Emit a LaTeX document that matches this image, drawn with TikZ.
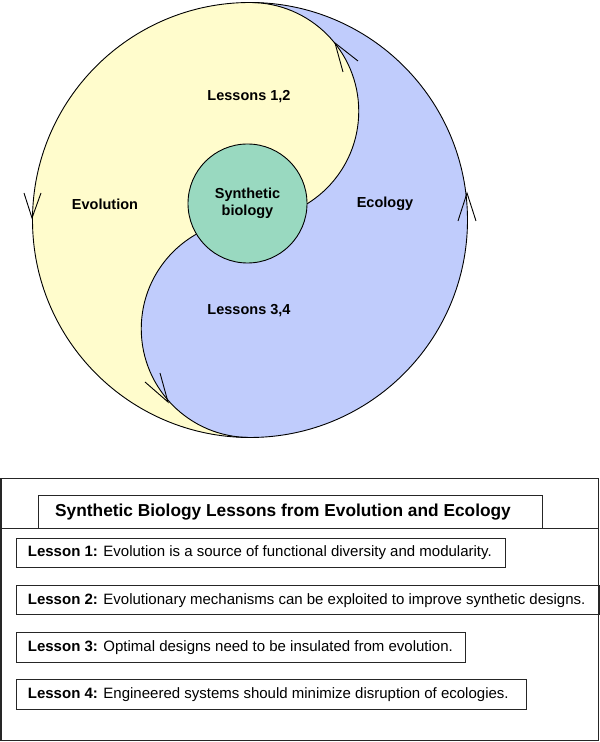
\documentclass[tikz,border=0pt]{standalone}
\usepackage{fontspec}
\setmainfont{Liberation Sans}
\definecolor{evoyellow}{RGB}{255,252,204}
\definecolor{ecoblue}{RGB}{192,204,252}
\definecolor{sbgreen}{RGB}{153,217,192}
\begin{document}
\begin{tikzpicture}[x=1pt,y=1pt,
  outline/.style={draw=black, line width=0.9pt},
  vhead/.style={draw=black, line width=0.9pt},
  lbl/.style={font=\fontsize{14.5}{17.5}\selectfont\bfseries, inner sep=0pt},
  framebox/.style={draw=black!85, line width=1.1pt},
  lessonbox/.style={framebox, rectangle, anchor=north west, inner sep=0pt},
  lessontext/.style={anchor=west, inner sep=0pt, font=\fontsize{15}{18}\selectfont}
]
\useasboundingbox (0,0) rectangle (600,742);
% yin-yang discs
\fill[ecoblue] (250,522) circle[radius=217.5pt];
\fill[evoyellow] (250,739.5) arc[start angle=90,end angle=270,radius=217.5pt]
  arc[start angle=270,end angle=90,radius=108.75pt]
  arc[start angle=-90,end angle=90,radius=108.75pt] -- cycle;
\draw[outline] (250,522) circle[radius=217.5pt];
\draw[outline] (250,304.5) arc[start angle=270,end angle=90,radius=108.75pt]
  arc[start angle=-90,end angle=90,radius=108.75pt];
% arrow heads
\draw[vhead] (24,549) -- (32,524) -- (41,549);
\draw[vhead] (343,670) -- (335,699) -- (358,681);
\draw[vhead] (458,521) -- (467,549) -- (476,521);
\draw[vhead] (160,369) -- (168,340) -- (145,360);
% centre
\node[circle, draw=black, line width=0.9pt, fill=sbgreen, minimum size=119pt, lbl, align=center] (sb) at (247.5,538.5) {Synthetic\\biology};
% labels
\node[lbl] (l12) at (249,645) {Lessons 1,2};
\node[lbl] (evo) at (105,538) {Evolution};
\node[lbl] (eco) at (385,538) {Ecology};
\node[lbl] (l34) at (249,431) {Lessons 3,4};
% lower table
\draw[framebox] (1,1.5) rectangle (598.5,263.5);
\draw[framebox] (1,213.7) -- (598.5,213.7);
\node[lessonbox, minimum width=504pt, minimum height=33.3pt] (titlebox) at (38.3,247) {};
\node[anchor=west, inner sep=0pt, font=\fontsize{17.3}{20}\selectfont\bfseries] (title) at (55,230.3) {Synthetic Biology Lessons from Evolution and Ecology};
\node[lessonbox, minimum width=489pt, minimum height=29.6pt] (b1) at (16,204.3) {};
\node[lessontext] (t1) at ([xshift=11.7pt]b1.west) {\textbf{Lesson 1:} Evolution is a source of functional diversity and modularity.};
\node[lessonbox, minimum width=582.5pt, minimum height=29.3pt] (b2) at (16,157) {};
\node[lessontext] (t2) at ([xshift=11.7pt]b2.west) {\textbf{Lesson 2:} Evolutionary mechanisms can be exploited to improve synthetic designs.};
\node[lessonbox, minimum width=449pt, minimum height=30pt] (b3) at (16,109.7) {};
\node[lessontext] (t3) at ([xshift=11.7pt]b3.west) {\textbf{Lesson 3:} Optimal designs need to be insulated from evolution.};
\node[lessonbox, minimum width=510pt, minimum height=30pt] (b4) at (16,62.7) {};
\node[lessontext] (t4) at ([xshift=11.7pt]b4.west) {\textbf{Lesson 4:} Engineered systems should minimize disruption of ecologies.};
\end{tikzpicture}
\end{document}
